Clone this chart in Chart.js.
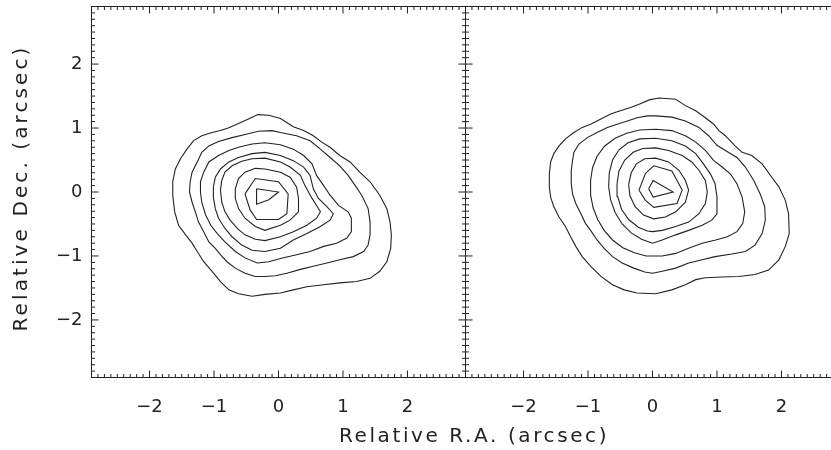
<!DOCTYPE html>
<html>
<head>
<meta charset="utf-8">
<script src="https://cdn.jsdelivr.net/npm/chart.js@4"></script>
<style>
  html, body { margin: 0; padding: 0; background: #fff; overflow: hidden; width: 831px; height: 450px; }
  #wrapLeft { position: absolute; left: 0; top: 0; width: 831px; height: 450px; }
  #wrapRight { position: absolute; left: 465px; top: 0; width: 380px; height: 450px; }
</style>
</head>
<body>
<div id="wrapLeft"><canvas id="leftChart"></canvas></div>
<div id="wrapRight"><canvas id="rightChart"></canvas></div>
<script>
// axis ranges and tick labels (arcsec)
const axisMin = -2.9;
const axisMax = 2.9;
const xTicks = [-2, -1, 0, 1, 2];
const yTicks = [-2, -1, 0, 1, 2];
const xTitle = 'Relative R.A. (arcsec)';
const yTitle = 'Relative Dec. (arcsec)';

// left panel contours, outer to inner, [RA, Dec] pairs
const left1 = [[-1.64,0.16],[-1.60,0.36],[-1.52,0.52],[-1.42,0.67],[-1.32,0.80],[-1.19,0.88],[-1.03,0.93],[-0.90,0.96],[-0.78,1.00],[-0.62,1.07],[-0.45,1.15],[-0.32,1.21],[-0.15,1.20],[0.03,1.15],[0.23,1.02],[0.39,0.96],[0.54,0.88],[0.67,0.78],[0.80,0.70],[0.95,0.57],[1.11,0.47],[1.26,0.31],[1.42,0.16],[1.57,-0.05],[1.68,-0.26],[1.73,-0.47],[1.75,-0.67],[1.74,-0.88],[1.68,-1.09],[1.57,-1.24],[1.42,-1.35],[1.21,-1.40],[0.95,-1.42],[0.70,-1.45],[0.44,-1.48],[0.23,-1.53],[0.03,-1.58],[-0.21,-1.60],[-0.41,-1.63],[-0.62,-1.59],[-0.77,-1.53],[-0.90,-1.40],[-1.03,-1.24],[-1.16,-1.09],[-1.26,-0.93],[-1.34,-0.80],[-1.44,-0.67],[-1.55,-0.52],[-1.61,-0.31],[-1.64,-0.05],[-1.64,0.16]];
const left2 = [[-1.37,0.16],[-1.34,0.31],[-1.26,0.47],[-1.19,0.62],[-1.08,0.72],[-0.93,0.79],[-0.72,0.85],[-0.52,0.90],[-0.31,0.95],[-0.10,0.96],[0.03,0.93],[0.28,0.88],[0.49,0.80],[0.65,0.67],[0.80,0.54],[0.95,0.41],[1.08,0.26],[1.19,0.10],[1.29,-0.05],[1.39,-0.26],[1.42,-0.47],[1.42,-0.67],[1.39,-0.83],[1.32,-0.93],[1.16,-1.01],[0.95,-1.06],[0.75,-1.11],[0.54,-1.16],[0.34,-1.21],[0.13,-1.27],[-0.05,-1.31],[-0.21,-1.32],[-0.36,-1.32],[-0.52,-1.27],[-0.67,-1.19],[-0.80,-1.09],[-0.90,-0.98],[-0.98,-0.88],[-1.08,-0.78],[-1.16,-0.62],[-1.24,-0.47],[-1.29,-0.31],[-1.34,-0.16],[-1.38,0.00],[-1.37,0.16]];
const left3 = [[-1.21,0.16],[-1.16,0.31],[-1.08,0.47],[-0.93,0.57],[-0.77,0.65],[-0.62,0.70],[-0.41,0.75],[-0.21,0.77],[0.03,0.74],[0.23,0.67],[0.39,0.57],[0.52,0.44],[0.59,0.26],[0.70,0.10],[0.80,-0.05],[0.93,-0.21],[1.08,-0.31],[1.13,-0.41],[1.13,-0.62],[1.06,-0.72],[0.90,-0.80],[0.70,-0.85],[0.49,-0.93],[0.28,-0.98],[0.03,-1.04],[-0.15,-1.09],[-0.33,-1.11],[-0.52,-1.03],[-0.67,-0.93],[-0.83,-0.78],[-0.95,-0.65],[-1.05,-0.52],[-1.13,-0.36],[-1.19,-0.16],[-1.21,0.00],[-1.21,0.16]];
const left4 = [[-1.01,0.08],[-0.98,0.23],[-0.90,0.36],[-0.77,0.47],[-0.62,0.54],[-0.41,0.60],[-0.21,0.62],[0.03,0.57],[0.23,0.49],[0.39,0.39],[0.49,0.26],[0.54,0.05],[0.62,-0.10],[0.75,-0.23],[0.85,-0.34],[0.80,-0.44],[0.65,-0.54],[0.44,-0.65],[0.23,-0.75],[0.03,-0.88],[-0.21,-0.93],[-0.41,-0.91],[-0.57,-0.83],[-0.72,-0.70],[-0.83,-0.57],[-0.93,-0.41],[-0.98,-0.26],[-1.01,-0.08],[-1.01,0.08]];
const left5 = [[-0.90,0.03],[-0.88,0.18],[-0.83,0.31],[-0.72,0.41],[-0.57,0.48],[-0.41,0.52],[-0.21,0.53],[0.03,0.47],[0.18,0.39],[0.34,0.26],[0.41,0.10],[0.52,-0.10],[0.59,-0.21],[0.65,-0.31],[0.59,-0.41],[0.44,-0.52],[0.23,-0.62],[0.03,-0.70],[-0.21,-0.76],[-0.36,-0.74],[-0.52,-0.67],[-0.64,-0.57],[-0.75,-0.44],[-0.83,-0.31],[-0.88,-0.16],[-0.90,0.03]];
const left6 = [[-0.67,-0.10],[-0.67,0.05],[-0.62,0.21],[-0.52,0.31],[-0.36,0.37],[-0.21,0.36],[0.03,0.31],[0.18,0.23],[0.28,0.08],[0.31,-0.10],[0.31,-0.31],[0.18,-0.44],[0.03,-0.52],[-0.21,-0.60],[-0.36,-0.54],[-0.52,-0.41],[-0.62,-0.26],[-0.67,-0.10]];
const left7 = [[-0.52,-0.03],[-0.36,0.21],[0.00,0.16],[0.15,-0.03],[0.13,-0.34],[0.00,-0.43],[-0.34,-0.43],[-0.44,-0.28],[-0.52,-0.03]];
const left8 = [[-0.34,0.05],[0.00,0.00],[-0.15,-0.12],[-0.34,-0.19],[-0.34,0.05]];

// right panel contours
const right1 = [[-1.60,0.08],[-1.60,0.28],[-1.58,0.47],[-1.53,0.60],[-1.45,0.72],[-1.35,0.83],[-1.22,0.93],[-1.09,1.01],[-0.96,1.06],[-0.80,1.14],[-0.65,1.22],[-0.50,1.27],[-0.34,1.32],[-0.19,1.38],[-0.05,1.44],[0.10,1.47],[0.36,1.45],[0.51,1.35],[0.67,1.27],[0.82,1.16],[0.95,1.06],[1.03,0.96],[1.13,0.88],[1.28,0.72],[1.39,0.62],[1.54,0.57],[1.70,0.44],[1.85,0.23],[1.96,0.08],[2.06,-0.13],[2.11,-0.34],[2.12,-0.65],[2.06,-0.85],[1.96,-1.06],[1.80,-1.22],[1.59,-1.29],[1.34,-1.32],[1.08,-1.33],[0.82,-1.34],[0.67,-1.37],[0.51,-1.45],[0.30,-1.53],[0.05,-1.59],[-0.24,-1.58],[-0.44,-1.53],[-0.62,-1.45],[-0.80,-1.32],[-0.96,-1.16],[-1.09,-1.01],[-1.19,-0.85],[-1.27,-0.70],[-1.35,-0.54],[-1.45,-0.39],[-1.53,-0.23],[-1.58,-0.08],[-1.60,0.08]];
const right2 = [[-1.26,0.13],[-1.26,0.34],[-1.24,0.49],[-1.22,0.62],[-1.14,0.75],[-1.01,0.85],[-0.86,0.93],[-0.70,1.01],[-0.55,1.06],[-0.39,1.11],[-0.24,1.16],[-0.08,1.19],[0.05,1.19],[0.30,1.17],[0.51,1.11],[0.72,1.01],[0.87,0.88],[1.00,0.73],[1.13,0.65],[1.31,0.54],[1.44,0.39],[1.57,0.18],[1.67,-0.03],[1.74,-0.23],[1.75,-0.44],[1.70,-0.65],[1.59,-0.83],[1.44,-0.93],[1.23,-0.97],[0.97,-1.01],[0.77,-1.06],[0.56,-1.11],[0.36,-1.19],[0.15,-1.24],[0.00,-1.27],[-0.12,-1.25],[-0.29,-1.19],[-0.47,-1.11],[-0.62,-1.01],[-0.75,-0.88],[-0.86,-0.75],[-0.96,-0.60],[-1.04,-0.49],[-1.11,-0.34],[-1.19,-0.18],[-1.24,-0.03],[-1.26,0.13]];
const right3 = [[-0.96,0.18],[-0.93,0.38],[-0.86,0.56],[-0.74,0.72],[-0.58,0.84],[-0.40,0.92],[-0.20,0.97],[0.05,0.98],[0.30,0.96],[0.51,0.88],[0.67,0.78],[0.82,0.65],[0.95,0.49],[1.08,0.39],[1.21,0.28],[1.31,0.13],[1.39,-0.08],[1.43,-0.31],[1.40,-0.49],[1.31,-0.62],[1.16,-0.70],[0.98,-0.75],[0.77,-0.80],[0.56,-0.88],[0.36,-0.96],[0.15,-1.00],[-0.10,-1.00],[-0.28,-0.95],[-0.46,-0.87],[-0.62,-0.75],[-0.75,-0.60],[-0.85,-0.43],[-0.92,-0.25],[-0.96,-0.05],[-0.96,0.18]];
const right4 = [[-0.68,0.08],[-0.67,0.30],[-0.62,0.50],[-0.52,0.66],[-0.38,0.77],[-0.20,0.83],[0.05,0.84],[0.30,0.80],[0.51,0.72],[0.67,0.60],[0.79,0.44],[0.90,0.28],[0.97,0.13],[1.00,-0.08],[1.00,-0.34],[0.92,-0.44],[0.77,-0.52],[0.56,-0.60],[0.36,-0.67],[0.15,-0.75],[0.00,-0.80],[-0.17,-0.74],[-0.33,-0.64],[-0.47,-0.50],[-0.58,-0.32],[-0.65,-0.12],[-0.68,0.08]];
const right5 = [[-0.55,0.13],[-0.52,0.33],[-0.43,0.50],[-0.30,0.62],[-0.15,0.68],[0.05,0.69],[0.25,0.65],[0.46,0.57],[0.61,0.47],[0.72,0.34],[0.82,0.18],[0.85,0.00],[0.82,-0.18],[0.72,-0.34],[0.56,-0.47],[0.36,-0.54],[0.15,-0.60],[0.00,-0.62],[-0.08,-0.61],[-0.22,-0.55],[-0.37,-0.43],[-0.48,-0.27],[-0.54,-0.07],[-0.55,0.13]];
const right6 = [[-0.37,0.12],[-0.33,0.30],[-0.25,0.44],[-0.12,0.52],[0.05,0.53],[0.25,0.47],[0.41,0.34],[0.51,0.18],[0.56,0.03],[0.51,-0.16],[0.36,-0.31],[0.20,-0.39],[0.02,-0.42],[-0.14,-0.36],[-0.27,-0.23],[-0.35,-0.06],[-0.37,0.12]];
const right7 = [[-0.21,0.03],[-0.11,0.29],[0.02,0.41],[0.30,0.33],[0.46,0.03],[0.38,-0.18],[0.02,-0.24],[-0.11,-0.13],[-0.21,0.03]];
const right8 = [[-0.06,0.05],[0.01,0.18],[0.32,0.00],[0.01,-0.08],[-0.06,0.05]];

const leftContours = [left1, left2, left3, left4, left5, left6, left7, left8];
const rightContours = [right1, right2, right3, right4, right5, right6, right7, right8];

const ink = '#222';
const fontFamily = "'DejaVu Sans', sans-serif";

const toDatasets = list => list.map(c => ({
    data: c.map(([x, y]) => ({ x, y })),
    showLine: true,
    borderColor: ink,
    borderWidth: 1.1,
    pointRadius: 0,
    fill: false,
    tension: 0
}));

const fmt = v => v < 0 ? '\u2212' + Math.abs(v) : String(v);

// box round the plot area with IDL style inward ticks every 0.1
const frameTicks = {
    id: 'frameTicks',
    afterDatasetsDraw(chart) {
        const { ctx, chartArea: a, scales: { x, y } } = chart;
        ctx.save();
        ctx.strokeStyle = ink;
        ctx.lineWidth = 1;
        ctx.strokeRect(a.left, a.top, a.right - a.left, a.bottom - a.top);
        ctx.beginPath();
        for (let i = -29; i <= 29; i++) {
            const len = i % 10 === 0 ? 7 : 3.5;
            const px = x.getPixelForValue(i / 10);
            ctx.moveTo(px, a.bottom); ctx.lineTo(px, a.bottom - len);
            ctx.moveTo(px, a.top); ctx.lineTo(px, a.top + len);
            const py = y.getPixelForValue(i / 10);
            ctx.moveTo(a.left, py); ctx.lineTo(a.left + len, py);
            ctx.moveTo(a.right, py); ctx.lineTo(a.right - len, py);
        }
        ctx.stroke();
        ctx.restore();
    }
};

// axis titles (the x title is shared by both panels)
const titles = {
    id: 'titles',
    afterDraw(chart) {
        const ctx = chart.ctx;
        const spaced = 'letterSpacing' in ctx;
        ctx.save();
        ctx.fillStyle = ink;
        ctx.font = '20px ' + fontFamily;
        ctx.textAlign = 'center';
        ctx.textBaseline = 'middle';
        if (spaced) ctx.letterSpacing = '2.6px';
        ctx.fillText(xTitle, 474, 437);
        if (spaced) ctx.letterSpacing = '3.1px';
        ctx.translate(22, 188);
        ctx.rotate(-Math.PI / 2);
        ctx.fillText(yTitle, 0, 0);
        ctx.restore();
    }
};

function makeOptions(showY, padding) {
    return {
        responsive: true,
        maintainAspectRatio: false,
        animation: false,
        events: [],
        layout: { padding },
        plugins: { legend: { display: false }, tooltip: { enabled: false } },
        scales: {
            x: {
                type: 'linear', min: axisMin, max: axisMax,
                grid: { display: false, drawTicks: false },
                border: { display: false },
                afterBuildTicks: s => { s.ticks = xTicks.map(v => ({ value: v })); },
                afterFit: s => { s.height = 72.5; s.paddingLeft = 0; s.paddingRight = 0; },
                ticks: { callback: fmt, color: ink, padding: 19, maxRotation: 0, autoSkip: false, font: { size: 18 } }
            },
            y: {
                type: 'linear', min: axisMin, max: axisMax,
                display: showY,
                grid: { display: false, drawTicks: false },
                border: { display: false },
                afterBuildTicks: s => { s.ticks = yTicks.map(v => ({ value: v })); },
                afterFit: s => { s.width = showY ? 91.5 : 0; s.paddingTop = 0; s.paddingBottom = 0; },
                ticks: { callback: fmt, color: ink, padding: 9, autoSkip: false, font: { size: 18 } }
            }
        }
    };
}

Chart.defaults.font.family = fontFamily;

new Chart(document.getElementById('leftChart'), {
    type: 'scatter',
    data: { datasets: toDatasets(leftContours) },
    options: makeOptions(true, { left: 0, right: 365.5, top: 6.5, bottom: 0 }),
    plugins: [frameTicks, titles]
});

new Chart(document.getElementById('rightChart'), {
    type: 'scatter',
    data: { datasets: toDatasets(rightContours) },
    options: makeOptions(false, { left: 0.5, right: 5.5, top: 6.5, bottom: 0 }),
    plugins: [frameTicks]
});
</script>
</body>
</html>
